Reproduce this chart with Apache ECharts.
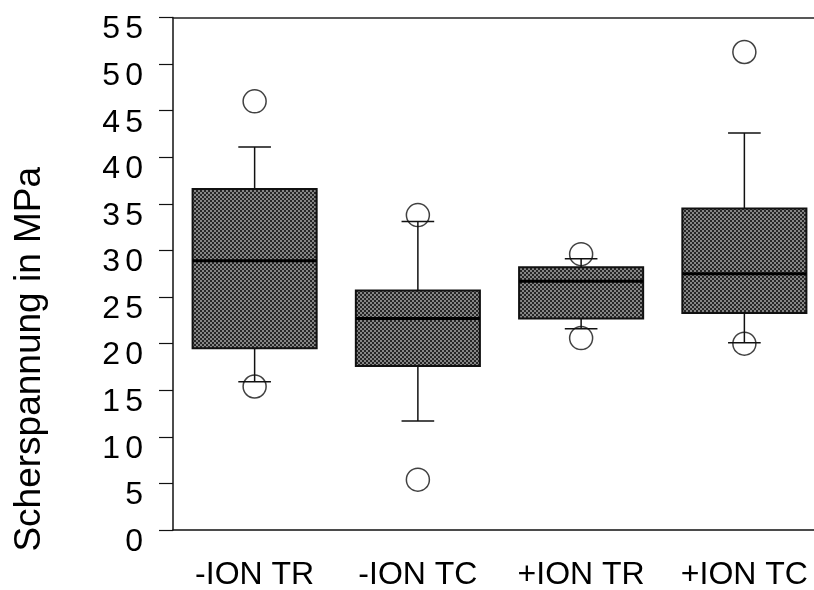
<!DOCTYPE html>
<html>
<head>
<meta charset="utf-8">
<script src="https://cdn.jsdelivr.net/npm/echarts@6/dist/echarts.min.js"></script>
<style>
  html, body { margin: 0; padding: 0; background: #fff; }
  #chart { width: 814px; height: 590px; }
</style>
</head>
<body>
<div id="chart"></div>
<script>
// Kategorien und Boxplot-Kennwerte
const categories = ['-ION TR', '-ION TC', '+ION TR', '+ION TC'];
const lowerWhisker = [15.9, 11.7, 21.6, 20.1];
const quartile1 = [19.5, 17.6, 22.7, 23.3];
const medians = [28.9, 22.7, 26.7, 27.5];
const quartile3 = [36.6, 25.7, 28.2, 34.5];
const upperWhisker = [41.1, 33.1, 29.1, 42.6];

// Ausreißer: Kategorie-Index und Wert
const outlierCategory = [0, 0, 1, 1, 2, 2, 3, 3];
const outlierValue = [46.0, 15.4, 33.8, 5.4, 29.6, 20.6, 51.3, 20.0];

// y-Achse
const yMin = 0;
const yMax = 55;
const yStep = 5;

// Raster-Muster für die Boxen
const makePattern = () => {
  const c = document.createElement('canvas');
  c.width = 4;
  c.height = 4;
  const ctx = c.getContext('2d');
  ctx.fillStyle = '#262626';
  ctx.fillRect(0, 0, 4, 4);
  ctx.fillStyle = '#868686';
  ctx.fillRect(0, 0, 2, 2);
  ctx.fillRect(2, 2, 2, 2);
  return { image: c, repeat: 'repeat' };
};

const boxData = categories.map((c, i) => [
  i, lowerWhisker[i], quartile1[i], medians[i], quartile3[i], upperWhisker[i]
]);
const outlierData = outlierCategory.map((c, i) => [c, outlierValue[i]]);

const myChart = echarts.init(document.getElementById('chart'), null, { renderer: 'canvas' });
const pattern = makePattern();

const renderBox = (params, api) => {
  const x = api.value(0);
  const low = api.coord([x, api.value(1)]);
  const q1 = api.coord([x, api.value(2)]);
  const med = api.coord([x, api.value(3)]);
  const q3 = api.coord([x, api.value(4)]);
  const high = api.coord([x, api.value(5)]);
  const band = api.size([1, 0])[0];
  const bw = band * 0.76;
  const cw = band * 0.2;
  const cx = low[0];
  const lineStyle = { stroke: '#111', lineWidth: 1.5, fill: null };
  return {
    type: 'group',
    children: [
      { type: 'line', shape: { x1: cx, y1: q3[1], x2: cx, y2: high[1] }, style: lineStyle },
      { type: 'line', shape: { x1: cx - cw / 2, y1: high[1], x2: cx + cw / 2, y2: high[1] }, style: lineStyle },
      { type: 'line', shape: { x1: cx, y1: q1[1], x2: cx, y2: low[1] }, style: lineStyle },
      { type: 'line', shape: { x1: cx - cw / 2, y1: low[1], x2: cx + cw / 2, y2: low[1] }, style: lineStyle },
      {
        type: 'rect',
        shape: { x: cx - bw / 2, y: q3[1], width: bw, height: q1[1] - q3[1] },
        style: { fill: pattern, stroke: '#111', lineWidth: 2 }
      },
      { type: 'line', shape: { x1: cx - bw / 2, y1: med[1], x2: cx + bw / 2, y2: med[1] }, style: { stroke: '#000', lineWidth: 3 } }
    ]
  };
};

const option = {
  backgroundColor: '#fff',
  animation: false,
  grid: { left: 173, right: -12, top: 17.5, bottom: 60, outerBoundsMode: 'none', containLabel: false },
  xAxis: [
    {
      type: 'category',
      data: categories,
      position: 'bottom',
      axisLine: { lineStyle: { color: '#111', width: 1.5 } },
      axisTick: { alignWithLabel: true, length: 8, lineStyle: { color: '#111', width: 1.2 } },
      axisLabel: {
        margin: 29,
        color: '#000',
        fontFamily: 'Liberation Sans',
        fontSize: 32,
        interval: 0,
        hideOverlap: false
      },
      splitLine: { show: false }
    },
    {
      type: 'category',
      data: categories,
      position: 'top',
      axisLine: { show: true, lineStyle: { color: '#222', width: 1.5 } },
      axisTick: { show: false },
      axisLabel: { show: false },
      splitLine: { show: false }
    }
  ],
  yAxis: {
    type: 'value',
    min: yMin,
    max: yMax,
    interval: yStep,
    name: 'Scherspannung in MPa',
    nameLocation: 'middle',
    nameGap: 125,
    nameTextStyle: {
      color: '#000',
      fontFamily: 'Liberation Sans',
      fontSize: 37,
      padding: [0, 171, 0, 0]
    },
    axisLine: { show: true, lineStyle: { color: '#111', width: 1.5 } },
    axisTick: { show: true, inside: false, length: 14, lineStyle: { color: '#111', width: 1.2 } },
    axisLabel: {
      margin: 30,
      color: '#000',
      padding: [24, 0, 0, 0],
      formatter: v => String(v).split('').map(d => '{d|' + d + '}').join(''),
      rich: {
        d: { width: 23, fontSize: 32, fontFamily: 'Liberation Sans', color: '#000' }
      }
    },
    splitLine: { show: false }
  },
  series: [
    {
      type: 'custom',
      name: 'Box',
      renderItem: renderBox,
      encode: { x: 0, y: [1, 2, 3, 4, 5] },
      data: boxData,
      z: 2
    },
    {
      type: 'scatter',
      name: 'Ausreißer',
      data: outlierData,
      symbol: 'circle',
      symbolSize: 23,
      itemStyle: { color: 'rgba(0,0,0,0)', borderColor: '#111', borderWidth: 1.5 },
      z: 3
    }
  ]
};

myChart.setOption(option);
</script>
</body>
</html>
